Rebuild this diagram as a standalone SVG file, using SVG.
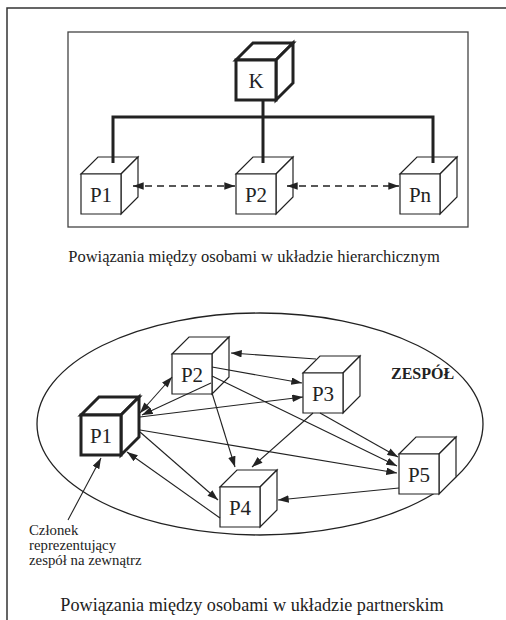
<svg xmlns="http://www.w3.org/2000/svg" width="506" height="620" viewBox="0 0 506 620">
  <style>
    .frame { fill: none; stroke: #333; stroke-width: 1.5; }
    .box { fill: none; stroke: #444; stroke-width: 1.3; }
    .oval { fill: none; stroke: #222; stroke-width: 1.3; }
    .cube path { fill: #fff; stroke: #222; stroke-width: 1.2; stroke-linejoin: miter; }
    .cube.bold path { stroke-width: 3; }
    .lbl { font-family: "Liberation Serif", "DejaVu Serif", serif; font-size: 21px; fill: #222; text-anchor: middle; }
    .cap { font-family: "Liberation Serif", "DejaVu Serif", serif; fill: #222; text-anchor: middle; }
    .note { font-family: "Liberation Serif", "DejaVu Serif", serif; font-size: 14.8px; fill: #222; }
    .team { font-family: "Liberation Serif", "DejaVu Serif", serif; font-size: 16px; font-weight: bold; fill: #222; }
    .tree { fill: none; stroke: #222; stroke-width: 3; }
    .dash { fill: none; stroke: #222; stroke-width: 1.3; stroke-dasharray: 7 5; marker-start: url(#arr); marker-end: url(#arr); }
    .link { fill: none; stroke: #222; stroke-width: 1.1; marker-end: url(#arr); }
    .both { marker-start: url(#arr); }
  </style>
  <defs>
    <marker id="arr" viewBox="0 0 10 7" refX="10" refY="3.5" markerWidth="11" markerHeight="7.5" markerUnits="userSpaceOnUse" orient="auto-start-reverse">
      <path d="M0,0 L10,3.5 L0,7 z" fill="#222"/>
    </marker>
  </defs>

  <!-- page frame (top and left rules) -->
  <path class="frame" d="M7,620 V8 H506"/>

  <!-- hierarchical layout -->
  <rect class="box" x="68" y="32" width="400" height="195"/>

  <g id="K" class="cube bold">
    <path d="M236,60 L253,43 L293,43 L276,60 Z"/>
    <path d="M276,60 L293,43 L293,83 L276,100 Z"/>
    <path d="M236,60 H276 V100 H236 Z"/>
    <text class="lbl" x="256" y="88">K</text>
  </g>
  <g id="H-P1" class="cube">
    <path d="M81,174 L98,157 L138,157 L121,174 Z"/>
    <path d="M121,174 L138,157 L138,197 L121,214 Z"/>
    <path d="M81,174 H121 V214 H81 Z"/>
    <text class="lbl" x="101" y="202">P1</text>
  </g>
  <g id="H-P2" class="cube">
    <path d="M236,174 L253,157 L293,157 L276,174 Z"/>
    <path d="M276,174 L293,157 L293,197 L276,214 Z"/>
    <path d="M236,174 H276 V214 H236 Z"/>
    <text class="lbl" x="256" y="202">P2</text>
  </g>
  <g id="H-Pn" class="cube">
    <path d="M400,174 L417,157 L457,157 L440,174 Z"/>
    <path d="M440,174 L457,157 L457,197 L440,214 Z"/>
    <path d="M400,174 H440 V214 H400 Z"/>
    <text class="lbl" x="420" y="202">Pn</text>
  </g>

  <g id="tree-links">
    <path class="tree" d="M263,100 V163"/>
    <path class="tree" d="M113,163 V117 H433 V163"/>
    <path class="dash" d="M133,186 H235"/>
    <path class="dash" d="M287,186 H399"/>
  </g>

  <text class="cap" x="254" y="262" font-size="16.5">Powiązania między osobami w układzie hierarchicznym</text>

  <!-- partner layout -->
  <ellipse class="oval" cx="260" cy="424" rx="223" ry="111"/>
  <text class="team" x="391" y="379">ZESPÓŁ</text>

  <g id="P1" class="cube bold">
    <path d="M81,415 L99,397 L139,397 L121,415 Z"/>
    <path d="M121,415 L139,397 L139,437 L121,455 Z"/>
    <path d="M81,415 H121 V455 H81 Z"/>
    <text class="lbl" x="101" y="443">P1</text>
  </g>
  <g id="P2" class="cube">
    <path d="M172,354 L189,337 L229,337 L212,354 Z"/>
    <path d="M212,354 L229,337 L229,377 L212,394 Z"/>
    <path d="M172,354 H212 V394 H172 Z"/>
    <text class="lbl" x="192" y="382">P2</text>
  </g>
  <g id="P3" class="cube">
    <path d="M303,373 L320,356 L360,356 L343,373 Z"/>
    <path d="M343,373 L360,356 L360,396 L343,413 Z"/>
    <path d="M303,373 H343 V413 H303 Z"/>
    <text class="lbl" x="323" y="401">P3</text>
  </g>
  <g id="P4" class="cube">
    <path d="M220,487 L237,470 L277,470 L260,487 Z"/>
    <path d="M260,487 L277,470 L277,510 L260,527 Z"/>
    <path d="M220,487 H260 V527 H220 Z"/>
    <text class="lbl" x="240" y="515">P4</text>
  </g>
  <g id="P5" class="cube">
    <path d="M399,454 L416,437 L456,437 L439,454 Z"/>
    <path d="M439,454 L456,437 L456,477 L439,494 Z"/>
    <path d="M399,454 H439 V494 H399 Z"/>
    <text class="lbl" x="419" y="482">P5</text>
  </g>

  <g id="team-links">
    <path class="link both" d="M140,413 L172,377"/>
    <path class="link" d="M211,383 L142,415"/>
    <path class="link" d="M316,359 L231,353"/>
    <path class="link" d="M212,367 L302,383"/>
    <path class="link" d="M140,417 L303,397"/>
    <path class="link" d="M320,413 L398,457"/>
    <path class="link" d="M212,376 L397,466"/>
    <path class="link" d="M140,430 L397,473"/>
    <path class="link" d="M313,413 L252,467"/>
    <path class="link" d="M212,393 L235,467"/>
    <path class="link" d="M140,432 L218,500"/>
    <path class="link" d="M220,518 L127,452"/>
    <path class="link" d="M399,488 L278,500"/>
    <path class="link" d="M68,520 L101,458"/>
  </g>

  <text class="note" x="29" y="535">Członek</text>
  <text class="note" x="29" y="550">reprezentujący</text>
  <text class="note" x="29" y="565">zespół na zewnątrz</text>

  <text class="cap" x="252" y="611" font-size="18.2">Powiązania między osobami w układzie partnerskim</text>
</svg>
